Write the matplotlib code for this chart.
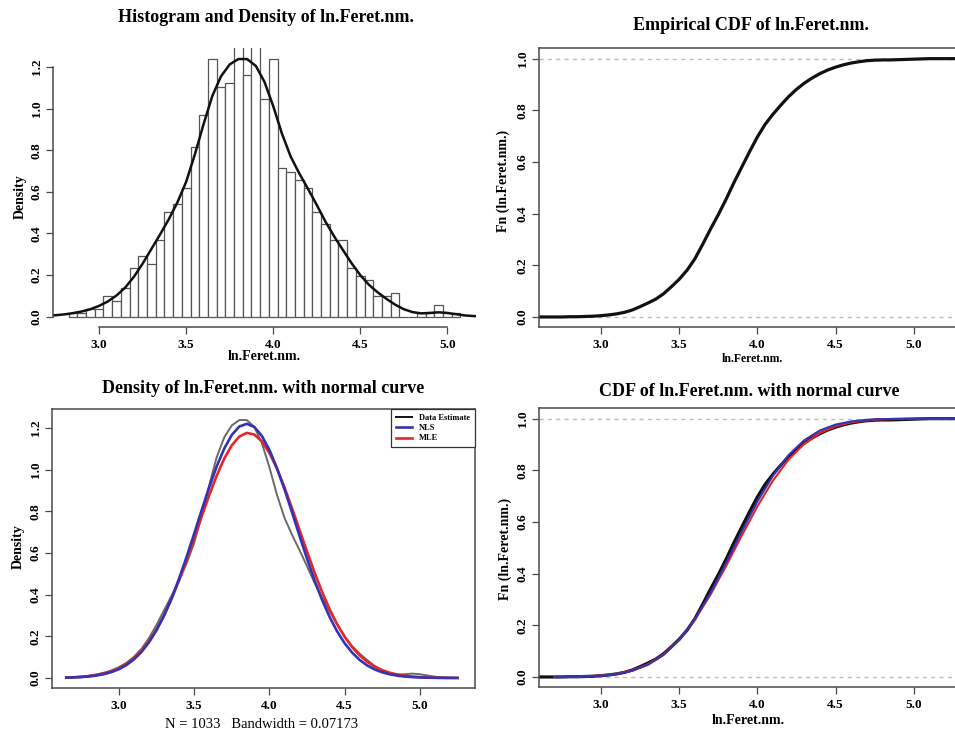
import matplotlib
matplotlib.use('Agg')
import matplotlib.pyplot as plt
import numpy as np

plt.rcParams['font.family'] = ['Liberation Serif', 'DejaVu Serif']
plt.rcParams['font.weight'] = 'bold'

var_name = 'ln.Feret.nm.'
n_obs = 1033
bandwidth = 0.07173

# histogram (density scale), bins of width 0.05
hist_breaks = [2.825, 2.875, 2.925, 2.975, 3.025, 3.075, 3.125, 3.175, 3.225, 3.275,
               3.325, 3.375, 3.425, 3.475, 3.525, 3.575, 3.625, 3.675, 3.725, 3.775,
               3.825, 3.875, 3.925, 3.975, 4.025, 4.075, 4.125, 4.175, 4.225, 4.275,
               4.325, 4.375, 4.425, 4.475, 4.525, 4.575, 4.625, 4.675, 4.725, 4.775,
               4.825, 4.875, 4.925, 4.975, 5.025, 5.075]
hist_density = [0.019, 0.019, 0.039, 0.039, 0.097, 0.077, 0.136, 0.232, 0.290, 0.252,
                0.368, 0.503, 0.542, 0.620, 0.813, 0.968, 1.239, 1.104, 1.123, 1.317,
                1.162, 1.317, 1.045, 1.239, 0.716, 0.697, 0.658, 0.620, 0.503, 0.445,
                0.368, 0.368, 0.232, 0.194, 0.174, 0.097, 0.097, 0.116, 0.0, 0.0,
                0.019, 0.019, 0.058, 0.019, 0.019]

# density curves
dens_x = [2.65, 2.70, 2.75, 2.80, 2.85, 2.90, 2.95, 3.00, 3.05, 3.10, 3.15, 3.20, 3.25, 3.30,
          3.35, 3.40, 3.45, 3.50, 3.55, 3.60, 3.65, 3.70, 3.75, 3.80, 3.85, 3.90, 3.95, 4.00,
          4.05, 4.10, 4.15, 4.20, 4.25, 4.30, 4.35, 4.40, 4.45, 4.50, 4.55, 4.60, 4.65, 4.70,
          4.75, 4.80, 4.85, 4.90, 4.95, 5.00, 5.05, 5.10, 5.15, 5.20, 5.25]
kde_y = [0.002, 0.004, 0.007, 0.011, 0.017, 0.025, 0.036, 0.052, 0.073, 0.102, 0.140, 0.192,
         0.255, 0.325, 0.395, 0.468, 0.550, 0.648, 0.780, 0.925, 1.060, 1.155, 1.212, 1.238,
         1.238, 1.205, 1.128, 1.012, 0.880, 0.770, 0.688, 0.614, 0.537, 0.457, 0.386, 0.321,
         0.257, 0.200, 0.153, 0.117, 0.086, 0.058, 0.036, 0.022, 0.016, 0.018, 0.021, 0.018,
         0.012, 0.006, 0.003, 0.001, 0.000]
nls_pdf = [0.0015, 0.0026, 0.0043, 0.0072, 0.0116, 0.0183, 0.0281, 0.0423, 0.0621, 0.0892,
           0.1250, 0.1712, 0.2292, 0.2996, 0.3826, 0.4773, 0.5817, 0.6925, 0.8055, 0.9151,
           1.0157, 1.1012, 1.1664, 1.2069, 1.2200, 1.2047, 1.1621, 1.0951, 1.0081, 0.9066,
           0.7965, 0.6835, 0.5730, 0.4693, 0.3755, 0.2935, 0.2241, 0.1671, 0.1218, 0.0867,
           0.0603, 0.0410, 0.0272, 0.0176, 0.0112, 0.0069, 0.0042, 0.0025, 0.0014, 0.0008,
           0.0004, 0.0002, 0.0001]
mle_pdf = [0.0020, 0.0034, 0.0055, 0.0089, 0.0139, 0.0213, 0.0321, 0.0471, 0.0677, 0.0953,
           0.1313, 0.1769, 0.2331, 0.3008, 0.3794, 0.4686, 0.5663, 0.6695, 0.7747, 0.8770,
           0.9713, 1.0528, 1.1164, 1.1586, 1.1763, 1.1686, 1.1361, 1.0805, 1.0057, 0.9159,
           0.8162, 0.7116, 0.6072, 0.5068, 0.4140, 0.3309, 0.2588, 0.1981, 0.1483, 0.1086,
           0.0779, 0.0546, 0.0375, 0.0252, 0.0165, 0.0106, 0.0067, 0.0041, 0.0025, 0.0015,
           0.0008, 0.0005, 0.0003]

# empirical cdf
ecdf_x = [2.60, 2.65, 2.70, 2.75, 2.80, 2.85, 2.90, 2.95, 3.00, 3.05, 3.10, 3.15, 3.20, 3.25,
          3.30, 3.35, 3.40, 3.45, 3.50, 3.55, 3.60, 3.65, 3.70, 3.75, 3.80, 3.85, 3.90, 3.95,
          4.00, 4.05, 4.10, 4.15, 4.20, 4.25, 4.30, 4.35, 4.40, 4.45, 4.50, 4.55, 4.60, 4.65,
          4.70, 4.75, 4.80, 4.85, 4.90, 4.95, 5.00, 5.05, 5.10, 5.40]
ecdf_y = [0.0, 0.0, 0.0, 0.0, 0.001, 0.001, 0.002, 0.003, 0.005, 0.008, 0.012, 0.018, 0.027,
          0.040, 0.054, 0.069, 0.090, 0.117, 0.146, 0.181, 0.225, 0.281, 0.340, 0.396, 0.456,
          0.520, 0.580, 0.640, 0.697, 0.746, 0.785, 0.820, 0.853, 0.881, 0.905, 0.925, 0.942,
          0.956, 0.967, 0.976, 0.983, 0.988, 0.992, 0.994, 0.995, 0.995, 0.996, 0.997, 0.998,
          0.999, 1.0, 1.0]

# fitted normal cdfs
cdf_x = [2.7, 2.8, 2.9, 3.0, 3.1, 3.2, 3.3, 3.4, 3.5, 3.6, 3.7, 3.8, 3.9, 4.0, 4.1, 4.2,
         4.3, 4.4, 4.5, 4.6, 4.7, 4.8, 4.9, 5.0, 5.1, 5.2, 5.3]
nls_cdf = [0.0002, 0.0007, 0.0019, 0.0048, 0.0111, 0.0238, 0.0469, 0.0853, 0.1436, 0.2242,
           0.3253, 0.4416, 0.5632, 0.6790, 0.7796, 0.8591, 0.9165, 0.9543, 0.9769, 0.9893,
           0.9954, 0.9982, 0.9994, 0.9998, 0.9999, 1.0, 1.0]
mle_cdf = [0.0003, 0.0009, 0.0023, 0.0056, 0.0125, 0.0258, 0.0493, 0.0874, 0.1441, 0.2215,
           0.3185, 0.4298, 0.5470, 0.6602, 0.7605, 0.8421, 0.9029, 0.9444, 0.9705, 0.9855,
           0.9934, 0.9972, 0.9989, 0.9996, 0.9999, 1.0, 1.0]

W, H = 955, 737
fig = plt.figure(figsize=(W / 100, H / 100), dpi=100)


def box(left, top, right, bottom):
    return [left / W, 1 - bottom / H, (right - left) / W, (bottom - top) / H]


def text_px(x, y, s, **kw):
    fig.text(x / W, 1 - y / H, s, ha='center', va='center', **kw)


axis_col = '#4a4a4a'
blue = '#3333b3'
red = '#e32628'
xt = [3.0, 3.5, 4.0, 4.5, 5.0]


def style(ax, yt):
    ax.set_xticks(xt)
    ax.set_xticklabels(['%.1f' % v for v in xt])
    ax.set_yticks(yt)
    ax.set_yticklabels(['%.1f' % v for v in yt], va='center')
    ax.tick_params(axis='both', direction='out', length=5, width=0.9, color=axis_col,
                   labelsize=9.5, pad=3.5)
    ax.tick_params(axis='y', labelrotation=90, pad=2.5)
    for s in ax.spines.values():
        s.set_color(axis_col)
        s.set_linewidth(1.1)


dens_ticks = [0.0, 0.2, 0.4, 0.6, 0.8, 1.0, 1.2]
cdf_ticks = [0.0, 0.2, 0.4, 0.6, 0.8, 1.0]
ref_line = dict(color='#bdbdbd', lw=1, ls=(0, (3, 3)))

# top left: histogram + density
ax1 = fig.add_axes(box(53, 48.3, 476, 327))
ax1.bar(hist_breaks[:-1], hist_density, width=np.diff(hist_breaks), align='edge',
        facecolor='white', edgecolor='#555555', linewidth=0.9)
ax1.plot(dens_x, kde_y, color='#111111', lw=1.8)
ax1.set_xlim(2.735, 5.165)
ax1.set_ylim(-0.0496, 1.2896)
style(ax1, dens_ticks)
ax1.spines['top'].set_visible(False)
ax1.spines['right'].set_visible(False)
ax1.spines['bottom'].set_bounds(3.0, 5.0)
ax1.spines['left'].set_bounds(0.0, 1.2)
text_px(266, 18, 'Histogram and Density of ' + var_name, fontsize=13)
text_px(264, 357, var_name, fontsize=10)
text_px(20, 197, 'Density', fontsize=10, rotation=90)

# top right: empirical cdf
ax2 = fig.add_axes(box(539.3, 48.3, 970, 327.3))
ax2.axhline(0, **ref_line)
ax2.axhline(1, **ref_line)
ax2.plot(ecdf_x, ecdf_y, color='#111111', lw=2.3)
ax2.set_xlim(2.605, 5.36)
ax2.set_ylim(-0.04, 1.04)
style(ax2, cdf_ticks)
text_px(751, 25, 'Empirical CDF of ' + var_name, fontsize=13)
text_px(752, 359, var_name, fontsize=8.5)
text_px(503, 181, 'Fn (%s)' % var_name, fontsize=10, rotation=90)

# bottom left: density with normal curves
ax3 = fig.add_axes(box(52.3, 409.3, 475, 688.3))
ax3.plot(dens_x, kde_y, color='#6a6a6a', lw=1.4, label='Data Estimate')
ax3.plot(dens_x, mle_pdf, color=red, lw=1.9, label='MLE')
ax3.plot(dens_x, nls_pdf, color=blue, lw=1.9, label='NLS')
ax3.set_xlim(2.557, 5.367)
ax3.set_ylim(-0.0496, 1.2896)
style(ax3, dens_ticks)
h, l = ax3.get_legend_handles_labels()
leg = ax3.legend([h[0], h[2], h[1]], ['Data Estimate', 'NLS', 'MLE'], loc='upper right',
                 borderaxespad=0, fancybox=False, framealpha=1, edgecolor='#333333',
                 prop={'size': 6, 'weight': 'bold'}, handlelength=2.0, handletextpad=0.8,
                 labelspacing=0.25, borderpad=0.6)
leg.get_frame().set_linewidth(0.9)
leg.legend_handles[0].set_color('#111111')
text_px(263, 388, 'Density of %s with normal curve' % var_name, fontsize=13)
text_px(262, 724, 'N = %d   Bandwidth = %s' % (n_obs, bandwidth), fontsize=10.5,
        fontweight='normal')
text_px(18, 547, 'Density', fontsize=10, rotation=90)

# bottom right: cdf with normal curves
ax4 = fig.add_axes(box(539.3, 408.3, 970, 687.3))
ax4.axhline(0, **ref_line)
ax4.axhline(1, **ref_line)
ax4.plot(ecdf_x, ecdf_y, color='#111111', lw=2.3)
ax4.plot(cdf_x, mle_cdf, color=red, lw=1.5)
ax4.plot(cdf_x, nls_cdf, color=blue, lw=1.5)
ax4.set_xlim(2.605, 5.36)
ax4.set_ylim(-0.04, 1.04)
style(ax4, cdf_ticks)
text_px(749, 391, 'CDF of %s with normal curve' % var_name, fontsize=13)
text_px(748, 720, var_name, fontsize=10)
text_px(505, 549, 'Fn (%s)' % var_name, fontsize=10, rotation=90)

fig.savefig('out.png', dpi=100)
